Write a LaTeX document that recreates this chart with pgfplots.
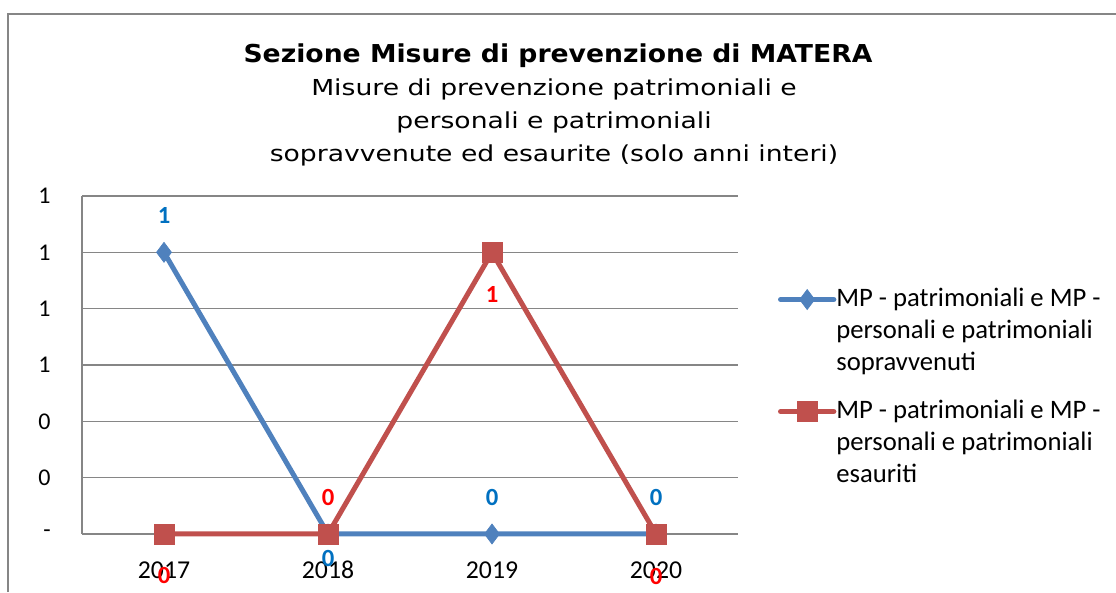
\documentclass[border=0pt]{standalone}
\usepackage{pgfplots}
\pgfplotsset{compat=1.18}
\usepackage{pgfplotstable}
\usepackage{fontspec}
\setmainfont{Carlito}
\newfontfamily\titlefont[FakeStretch=1.08]{DejaVu Sans}
\newfontfamily\subtitlefont[FakeStretch=1.21]{DejaVu Sans}
\definecolor{sblue}{HTML}{4F81BD}
\definecolor{sred}{HTML}{C0504D}
\definecolor{lblue}{HTML}{0070C0}
\definecolor{lred}{HTML}{FF0000}
\definecolor{gridgray}{HTML}{868686}
\pgfplotstableread{
x y lab dy
0 1 1 37
1 0 0 -24
2 0 0 37
3 0 0 37
}\blue
\pgfplotstableread{
x y lab dy
0 0 0 -41
1 0 0 37
2 1 1 -42
3 0 0 -42
}\red
\begin{document}
\begin{tikzpicture}[x=0.75pt,y=0.75pt]
\path[use as bounding box] (0,0) rectangle (1116,592);
\draw[gridgray,line width=1.5pt] (8,0) -- (8,578) -- (1116,578);
\node[font=\titlefont\bfseries\fontsize{18.5pt}{22pt}\selectfont,anchor=base] at (558,529) {Sezione Misure di prevenzione di MATERA};
\node[font=\subtitlefont\fontsize{16.5pt}{20pt}\selectfont,anchor=base] at (554,496) {Misure di prevenzione patrimoniali e};
\node[font=\subtitlefont\fontsize{16.5pt}{20pt}\selectfont,anchor=base] at (554,463) {personali e patrimoniali};
\node[font=\subtitlefont\fontsize{16.5pt}{20pt}\selectfont,anchor=base] at (554,430) {sopravvenute ed esaurite (solo anni interi)};
\begin{axis}[
  at={(61.5pt,43.5pt)}, anchor=south west,
  scale only axis, width=492pt, height=253.5pt,
  xmin=-0.5, xmax=3.5, ymin=0, ymax=1.2,
  axis x line=bottom, axis y line=left,
  axis line style={gridgray,line width=1.2pt,-},
  xtick={0,1,2,3}, xticklabels={2017,2018,2019,2020},
  ytick={0,0.2,0.4,0.6,0.8,1.0,1.2}, yticklabels={-,0,0,1,1,1,1},
  major tick length=0pt,
  ymajorgrids, grid style={gridgray,line width=1.2pt},
  ticklabel style={font=\fontsize{18pt}{22pt}\selectfont},
  xticklabel style={yshift=-17pt, font=\fontsize{19.3pt}{24pt}\selectfont},
  yticklabel style={xshift=-20pt},
  clip=false,
  legend style={at={(1.061,0.741)}, anchor=north west, draw=none, fill=none,
    inner sep=0pt, outer sep=0pt,
    font=\fontsize{20pt}{24pt}\selectfont, row sep=0pt, column sep=0pt,
    nodes={inner sep=0pt, outer sep=0pt, text height=17pt, text depth=7pt},
    cells={anchor=base west}},
  legend image code/.code={\draw[#1, mark=none, line cap=round] (0pt,5pt) -- (40pt,5pt); \path[#1] plot coordinates {(20pt,5pt)};},
  nodes near coords,
  point meta=explicit symbolic,
  visualization depends on={\thisrow{dy} \as \dy},
  every node near coord/.append style={font=\bfseries\fontsize{18.5pt}{22pt}\selectfont, anchor=center, yshift=0.75*\dy, text height=, text depth=},
]
\addplot[sblue, line width=3.75pt, mark=diamond*, mark size=7.5pt, mark options={solid,line width=0.5pt},
  every node near coord/.append style={text=lblue}]
  table[x=x,y=y,meta=lab] {\blue};
\addlegendentry{MP - patrimoniali e MP -}
\addlegendimage{empty legend}
\addlegendentry{personali e patrimoniali}
\addlegendimage{empty legend}
\addlegendentry{sopravvenuti}
\addplot[sred, line width=3.75pt, mark=square*, mark size=7.5pt, mark options={solid,line width=0.5pt},
  every node near coord/.append style={text=lred}]
  table[x=x,y=y,meta=lab] {\red};
\addlegendentry[text height=29pt]{MP - patrimoniali e MP -}
\addlegendimage{empty legend}
\addlegendentry{personali e patrimoniali}
\addlegendimage{empty legend}
\addlegendentry{esauriti}
\end{axis}
\end{tikzpicture}
\end{document}
